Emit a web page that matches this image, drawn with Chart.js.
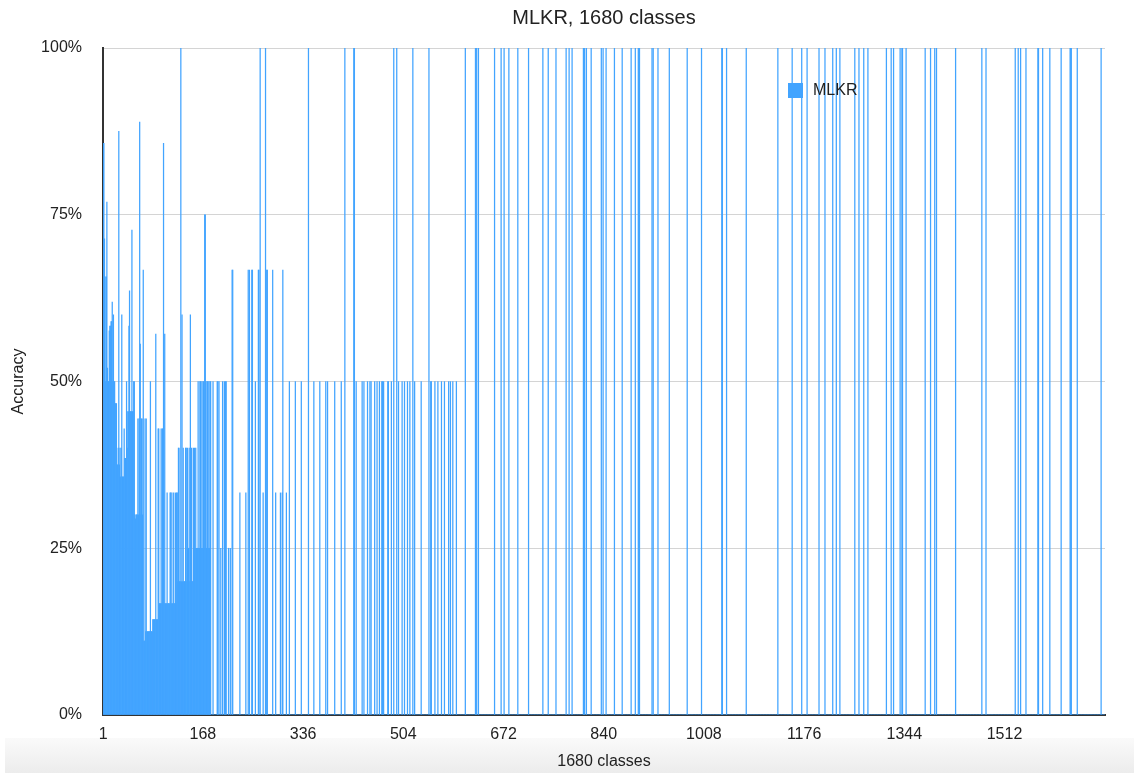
<!DOCTYPE html>
<html>
<head>
<meta charset="utf-8">
<title>MLKR, 1680 classes</title>
<script src="https://cdn.jsdelivr.net/npm/chart.js@4/dist/chart.umd.min.js"></script>
<style>
  html, body { margin: 0; padding: 0; background: #fff; }
  #wrap { position: relative; width: 1134px; height: 773px; }
  #band {
    position: absolute; left: 5px; top: 738px; width: 1129px; height: 35px;
    background: linear-gradient(#fafafa, #ececec);
  }
  #chart { position: absolute; left: 0; top: 0; }
</style>
</head>
<body>
<div id="wrap">
  <div id="band"></div>
  <canvas id="chart" width="1134" height="773"></canvas>
</div>
<script>
  const NUM_CLASSES = 1680;
  const tickClasses = [1, 168, 336, 504, 672, 840, 1008, 1176, 1344, 1512];

  // accuracy (%) for classes 1..180, one value per class
  const headValues = [
    85.7, 85.7, 71.4, 65.7, 50, 65.7, 76.9, 52, 50, 50,
    57.6, 58.3, 58.3, 59, 59, 61.9, 50, 60, 50, 50,
    46.7, 46.7, 46.7, 37.5, 37.5, 40, 87.5, 37.5, 40, 35.7,
    40, 60, 35.7, 35.7, 35.7, 42.9, 38.5, 38.5, 38.5, 50,
    45.5, 40, 45.5, 58.3, 63.6, 45.5, 45.5, 45.5, 72.7, 45.5,
    45.5, 50, 50, 30, 29.4, 30, 30, 30, 44.4, 30,
    44.4, 88.9, 55.6, 30, 44.4, 44.4, 30, 66.7, 11.1, 11.1,
    44.4, 12.5, 44.4, 12.5, 12.5, 12.5, 12.5, 12.5, 12.5, 50,
    12.5, 12.5, 12.5, 14.3, 14.3, 14.3, 14.3, 14.3, 57.1, 14.3,
    14.3, 14.3, 42.9, 42.9, 16.7, 16.7, 16.7, 42.9, 16.7, 42.9,
    42.9, 85.7, 16.7, 57.1, 16.7, 16.7, 16.7, 33.3, 16.7, 16.7,
    16.7, 16.7, 33.3, 33.3, 16.7, 33.3, 16.7, 16.7, 33.3, 16.7,
    16.7, 33.3, 16.7, 33.3, 33.3, 20, 40, 40, 20, 20,
    100, 20, 60, 20, 40, 20, 20, 20, 40, 40,
    20, 40, 25, 25, 40, 20, 60, 20, 40, 20,
    20, 40, 25, 40, 25, 40, 25, 25, 25, 50,
    25, 25, 50, 50, 50, 25, 25, 50, 50, 25,
    75, 75, 50, 25, 50, 50, 25, 50, 25, 50
  ];

  // classes 181..600: only these have a non-zero accuracy
  const midClasses = [
    181, 185, 192, 193, 195, 198, 201, 204, 206, 207, 211, 214, 217, 218,
    230, 240, 244, 246, 250, 251, 256, 261, 262, 264, 269, 273, 275, 276,
    285, 290, 298, 301, 302, 308, 313, 323, 333, 345, 354, 364, 374, 377,
    389, 400, 406, 421, 422, 425, 435, 438, 444, 448, 450, 456, 460, 464,
    468, 469, 471, 478, 479, 484, 488, 493, 496, 502, 506, 511, 515, 520,
    523, 534, 547, 550, 551, 557, 562, 568, 573, 580, 583, 587, 593
  ];
  const midValues = [
    50, 50, 50, 50, 50, 25, 50, 50, 50, 50, 25, 25, 66.7, 66.7,
    33.3, 33.3, 66.7, 66.7, 66.7, 66.7, 50, 66.7, 66.7, 100, 33.3, 100, 66.7, 66.7,
    66.7, 33.3, 33.3, 33.3, 66.7, 33.3, 50, 50, 50, 100, 50, 50, 50, 50,
    50, 50, 100, 100, 100, 50, 50, 50, 50, 50, 50, 50, 50, 50,
    50, 50, 50, 50, 50, 50, 100, 100, 50, 50, 50, 50, 50, 100,
    50, 50, 100, 50, 50, 50, 50, 50, 50, 50, 50, 50, 50
  ];

  // classes above 600 that were classified perfectly (all others 0%)
  const perfectClasses = [
    608, 625, 627, 630, 657, 668, 673, 681, 696, 714, 738, 747, 760, 777,
    782, 787, 806, 808, 811, 819, 836, 839, 844, 858, 871, 886, 893, 898,
    899, 900, 921, 923, 931, 950, 980, 1004, 1038, 1039, 1046, 1079, 1132,
    1156, 1172, 1181, 1201, 1211, 1224, 1230, 1236, 1261, 1268, 1276, 1283,
    1314, 1322, 1326, 1337, 1340, 1341, 1347, 1379, 1388, 1395, 1398, 1430,
    1474, 1481, 1530, 1535, 1539, 1548, 1568, 1569, 1576, 1588, 1607, 1622,
    1623, 1624, 1634, 1674
  ];

  const labels = [];
  const accuracy = [];
  for (let c = 1; c <= NUM_CLASSES; c++) {
    labels.push(String(c));
    accuracy.push(0);
  }
  headValues.forEach((v, i) => { accuracy[i] = v; });
  midClasses.forEach((c, i) => { accuracy[c - 1] = midValues[i]; });
  perfectClasses.forEach(c => { accuracy[c - 1] = 100; });

  const FONT = '"Liberation Sans", Arial, Helvetica, sans-serif';
  const BAR_BLUE = '#42a4ff';

  // legend sits inside the plot, top right
  const insideLegend = {
    id: 'insideLegend',
    afterDraw(chart) {
      const ctx = chart.ctx;
      const ds = chart.data.datasets[0];
      const x = chart.chartArea.left + 685;
      const y = chart.chartArea.top + 35;
      ctx.save();
      ctx.fillStyle = ds.backgroundColor;
      ctx.fillRect(x, y, 15, 15);
      ctx.fillStyle = '#222';
      ctx.font = '16px ' + FONT;
      ctx.textBaseline = 'middle';
      ctx.fillText(ds.label, x + 25, y + 8);
      ctx.restore();
    }
  };

  new Chart(document.getElementById('chart'), {
    type: 'bar',
    data: {
      labels: labels,
      datasets: [{
        label: 'MLKR',
        data: accuracy,
        backgroundColor: BAR_BLUE,
        borderWidth: 0,
        barPercentage: 1,
        categoryPercentage: 1
      }]
    },
    options: {
      responsive: false,
      animation: false,
      layout: { padding: { left: 0, right: 29, top: 0, bottom: 0 } },
      plugins: {
        legend: { display: false },
        tooltip: { enabled: false },
        title: {
          display: true,
          fullSize: false,
          text: 'MLKR, 1680 classes',
          color: '#222',
          font: { family: FONT, size: 20, weight: 'normal' },
          padding: { top: 6, bottom: 18 }
        }
      },
      scales: {
        x: {
          grid: { display: false, drawTicks: false },
          border: { display: true, color: '#333', width: 2 },
          ticks: {
            autoSkip: false,
            maxRotation: 0,
            padding: 10,
            color: '#222',
            font: { family: FONT, size: 16 },
            callback: function (val, i) {
              return tickClasses.includes(i + 1) ? labels[i] : null;
            }
          },
          title: {
            display: true,
            text: '1680 classes',
            color: '#222',
            font: { family: FONT, size: 16 },
            padding: { top: 0, bottom: 2 }
          },
          afterFit: function (scale) { scale.height = 58; }
        },
        y: {
          min: 0,
          max: 100,
          grid: { color: '#d4d4d4', lineWidth: 1, drawTicks: false },
          border: { display: true, color: '#333', width: 2 },
          ticks: {
            stepSize: 25,
            padding: 21,
            color: '#222',
            font: { family: FONT, size: 16 },
            callback: v => v + '%'
          },
          title: {
            display: true,
            text: 'Accuracy',
            color: '#222',
            font: { family: FONT, size: 16 },
            padding: { top: 9, bottom: 0 }
          },
          afterFit: function (scale) { scale.width = 103; }
        }
      }
    },
    plugins: [insideLegend]
  });
</script>
</body>
</html>
